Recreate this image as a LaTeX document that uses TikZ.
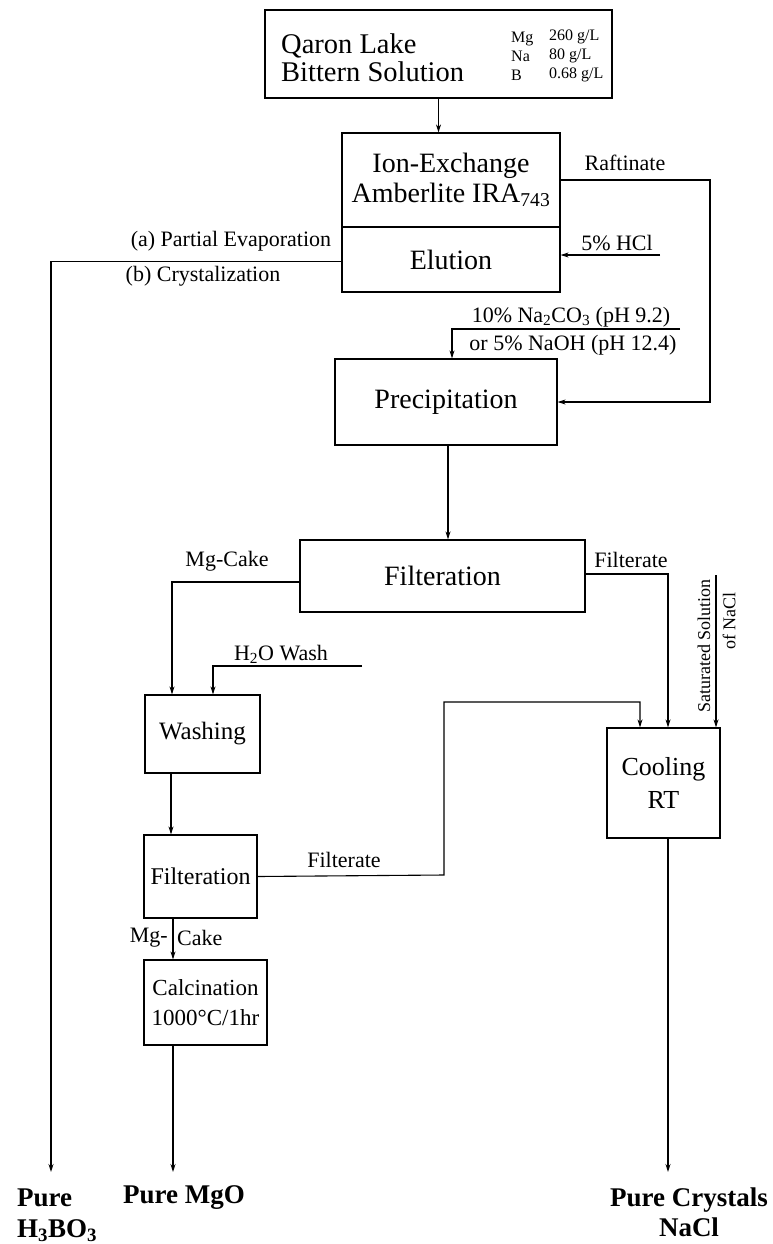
\documentclass[tikz,border=0pt]{standalone}
\usepackage{fontspec}
\setmainfont{Liberation Serif}
\usetikzlibrary{arrows.meta}
\begin{document}
\begin{tikzpicture}[x=1pt,y=-1pt,
  box/.style={draw, line width=1.2pt, inner sep=0pt, align=center, font=\fontsize{28}{30}\selectfont},
  sbox/.style={box, font=\fontsize{24}{30}\selectfont},
  lbl/.style={inner sep=0pt, font=\fontsize{22}{24}\selectfont},
  small/.style={inner sep=0pt, font=\fontsize{16}{19}\selectfont, align=left},
  fin/.style={inner sep=0pt, font=\bfseries\fontsize{27}{30}\selectfont},
  arr/.style={line width=1.1pt, -{Stealth[length=8pt,width=5pt]}}]
\useasboundingbox (0,0) rectangle (772,1244);
% boxes
\node[box, minimum width=347pt, minimum height=88pt] (lake) at (438.5,54) {};
\node[anchor=west, inner sep=0pt, align=left, font=\fontsize{28.5}{28}\selectfont] (laket) at (281,58) {Qaron Lake\\Bittern Solution};
\node[small, anchor=west] (elem) at (511,56) {Mg\\Na\\B};
\node[small, anchor=west] (conc) at (549,56) {260 g/L\\80 g/L\\0.68 g/L};
\node[box, minimum width=218pt, minimum height=94pt] (ion) at (451,180) {Ion-Exchange\\Amberlite IRA\textsubscript{743}};
\node[box, minimum width=218pt, minimum height=65pt] (elu) at (451,259.5) {Elution};
\node[box, minimum width=222pt, minimum height=86pt] (prec) at (446,402) {Precipitation};
\node[box, minimum width=285pt, minimum height=72pt] (filt1) at (442.5,576) {Filteration};
\node[sbox, font=\fontsize{25}{30}\selectfont, minimum width=115pt, minimum height=78pt] (wash) at (202.5,734) {Washing};
\node[sbox, minimum width=113pt, minimum height=83pt] (filt2) at (200.5,876.5) {Filteration};
\node[sbox, font=\fontsize{23}{30}\selectfont, minimum width=123pt, minimum height=85pt] (calc) at (205.5,1002.5) {Calcination\\1000°C/1hr};
\node[sbox, font=\fontsize{26}{33}\selectfont, minimum width=113pt, minimum height=110pt] (cool) at (663.5,783) {Cooling\\RT};
% end products
\node[fin, anchor=west] (pureh) at (17,1198) {Pure};
\node[fin, anchor=west] (h3bo3) at (17,1231) {H\textsubscript{3}BO\textsubscript{3}};
\node[fin, anchor=west] (puremgo) at (123,1198) {Pure MgO};
\node[fin, align=center] (purenacl) at (689,1212) {Pure Crystals\\NaCl};
% coordinates
\coordinate (rafc) at (710,180);
\coordinate (hcl) at (660,255);
\coordinate (hb) at (51,1172);
\coordinate (naco) at (680,329);
\coordinate (h2o) at (362,666);
\coordinate (sat) at (716,575);
\coordinate (f2a) at (444,875);
\coordinate (f2b) at (444,702);
\coordinate (mgo) at (173,1172);
\coordinate (nacl) at (668,1172);
% connectors
\draw[arr] (lake.south) -- (lake.south |- ion.north);
\draw[arr] (ion.east) -- (rafc) |- (prec.east);
\node[lbl] at (625,163) {Raftinate};
\draw[arr] (hcl) -- (hcl -| elu.east);
\node[lbl] at (617,243) {5\% HCl};
\draw[arr] ([yshift=-2pt]elu.west) -| (hb);
\node[lbl] at (231,241) {(a) Partial Evaporation};
\node[lbl] at (203,276) {(b) Crystalization};
\draw[arr] (naco) -| ([xshift=6pt]prec.north);
\node[lbl] at (571,317) {10\% Na\textsubscript{2}CO\textsubscript{3} (pH 9.2)};
\node[lbl] at (573,345) {or 5\% NaOH (pH 12.4)};
\draw[arr] ([xshift=2pt]prec.south) -- ([xshift=2pt]prec.south |- filt1.north);
\draw[arr] ([yshift=-6pt]filt1.west) -| (wash.north -| 172,0);
\node[lbl] at (227,561) {Mg-Cake};
\draw[arr] (h2o) -| (wash.north -| 213,0);
\node[lbl] at (281,654) {H\textsubscript{2}O Wash};
\draw[arr] ([yshift=2pt]filt1.east) -| ([xshift=4.5pt]cool.north);
\node[lbl] at (631,560) {Filterate};
\draw[arr] (sat) -- (sat |- cool.north);
\node[inner sep=0pt, rotate=90, font=\fontsize{18}{20}\selectfont] at (704,646) {Saturated Solution};
\node[inner sep=0pt, rotate=90, font=\fontsize{18}{20}\selectfont] at (729,621) {of NaCl};
\draw[arr] (wash.south -| 171,0) -- (filt2.north -| 171,0);
\draw[arr] (filt2.east) -- (f2a) -- (f2b) -| ([xshift=-23.5pt]cool.north);
\node[lbl] at (344,860) {Filterate};
\draw[arr] (filt2.south -| 173,0) -- (calc.north -| 173,0);
\node[lbl, anchor=east] at (168,938) {Mg-};
\node[lbl, anchor=west] at (177,938) {Cake};
\draw[arr] (calc.south -| 173,0) -- (mgo);
\draw[arr] ([xshift=4.5pt]cool.south) -- (nacl);
\end{tikzpicture}
\end{document}
